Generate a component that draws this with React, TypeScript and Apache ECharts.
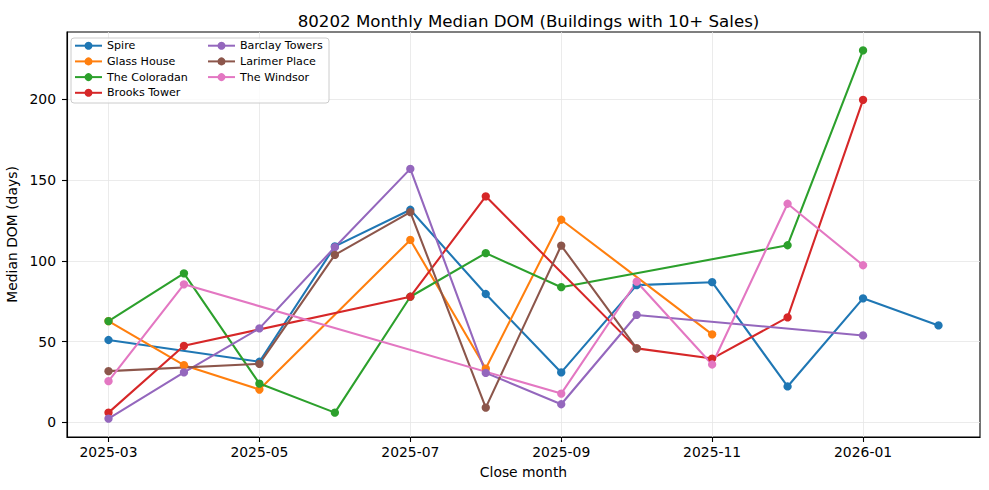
import React, { useEffect, useRef } from "react";
import * as echarts from "echarts";

const months = ["2025-03","2025-04","2025-05","2025-06","2025-07","2025-08","2025-09","2025-10","2025-11","2025-12","2026-01","2026-02"];
const xTickIdx = [0, 2, 4, 6, 8, 10];
const yTicks = [0, 50, 100, 150, 200];

const seriesNames = ["Spire","Glass House","The Coloradan","Brooks Tower","Barclay Towers","Larimer Place","The Windsor"];
const colors = ["#1f77b4","#ff7f0e","#2ca02c","#d62728","#9467bd","#8c564b","#e377c2"];

const spire = [51, null, 37.5, 109, 131.7, 79.5, 30.9, 85, 86.8, 22.2, 76.8, 60];
const glassHouse = [62.7, 35.4, 20.3, null, 113, 33.3, 125.5, null, 54.5, null, null, null];
const coloradan = [62.7, 92.3, 24, 6, 77.8, 104.8, 83.7, null, null, 109.7, 230.4, null];
const brooksTower = [6, 47.4, null, null, 77.8, 140, null, 45.8, 39.5, 65, 199.8, null];
const barclayTowers = [2.3, 30.9, 58.2, 108.5, 157, 30.6, 11.2, 66.5, null, null, 53.8, null];
const larimerPlace = [31.7, null, 36.2, 103.7, 130.2, 9.1, 109.5, 45.8, null, null, null, null];
const windsor = [25.5, 85.5, null, null, null, null, 17.8, 87.1, 35.8, 135.4, 97.3, null];

const allValues = [spire, glassHouse, coloradan, brooksTower, barclayTowers, larimerPlace, windsor];

const FONT = "DejaVu Sans";

export default function App() {
  const ref = useRef<HTMLDivElement>(null);
  useEffect(() => {
    if (!ref.current) return;
    const chart = echarts.init(ref.current, null, { renderer: "svg" });
    const flat = allValues.flat().filter((v) => v !== null) as number[];
    const dMin = Math.min(...flat);
    const dMax = Math.max(...flat);
    const pad = (dMax - dMin) * 0.05;
    const xPad = (months.length - 1) * 0.05;

    const series = allValues.map((vals, i) => ({
      name: seriesNames[i],
      type: "line",
      data: vals.map((v, j) => (v === null ? null : [j, v])).filter((d) => d !== null),
      symbol: "circle",
      symbolSize: 8.3,
      showSymbol: true,
      lineStyle: { width: 2.08, color: colors[i] },
      itemStyle: { color: colors[i] },
      emphasis: { disabled: true },
      z: 2,
    }));

    const legendCommon = {
      orient: "vertical",
      itemWidth: 27,
      itemHeight: 10,
      itemGap: 4.7,
      padding: 0,
      top: 40.2,
      textStyle: { fontFamily: FONT, fontSize: 11.1, color: "#000" },
      z: 5,
      selectedMode: false,
    };

    chart.setOption({
      animation: false,
      color: colors,
      title: {
        text: "80202 Monthly Median DOM (Buildings with 10+ Sales)",
        left: 523.5,
        top: 8,
        textAlign: "center",
        textStyle: { fontFamily: FONT, fontSize: 16.67, fontWeight: "normal", color: "#000" },
      },
      grid: {
        left: 67,
        right: 9,
        top: 32,
        bottom: 53,
        show: true,
        borderColor: "#000",
        borderWidth: 1.1,
        backgroundColor: "transparent",
        containLabel: false,
        outerBoundsMode: "none",
      },
      legend: [
        { ...legendCommon, left: 74, data: seriesNames.slice(0, 4) },
        { ...legendCommon, left: 207, data: seriesNames.slice(4) },
      ],
      graphic: [
        {
          type: "rect",
          z: 4,
          shape: { x: 71, y: 38, width: 258, height: 65, r: 3 },
          style: { fill: "rgba(255,255,255,0.8)", stroke: "#cccccc", lineWidth: 1 },
        },
      ],
      xAxis: {
        type: "value",
        min: -xPad,
        max: months.length - 1 + xPad,
        name: "Close month",
        nameLocation: "middle",
        nameGap: 28,
        nameTextStyle: { fontFamily: FONT, fontSize: 13.9, color: "#000" },
        axisLine: { show: true, onZero: false, lineStyle: { color: "#000", width: 1.1 } },
        axisTick: { show: true, length: 5, lineStyle: { color: "#000", width: 1.1 }, customValues: xTickIdx },
        axisLabel: {
          customValues: xTickIdx,
          formatter: (v: number) => months[Math.round(v)] ?? "",
          fontFamily: FONT,
          fontSize: 13.9,
          color: "#000",
          margin: 8,
        },
        splitLine: { show: true, lineStyle: { color: "#e6e6e6", width: 0.8 } },
      },
      yAxis: {
        type: "value",
        min: dMin - pad,
        max: dMax + pad,
        name: "Median DOM (days)",
        nameLocation: "middle",
        nameGap: 43,
        nameTextStyle: { fontFamily: FONT, fontSize: 13.9, color: "#000" },
        axisLine: { show: true, onZero: false, lineStyle: { color: "#000", width: 1.1 } },
        axisTick: { show: true, length: 5, lineStyle: { color: "#000", width: 1.1 }, customValues: yTicks },
        axisLabel: {
          customValues: yTicks,
          fontFamily: FONT,
          fontSize: 13.9,
          color: "#000",
          margin: 11,
        },
        splitLine: { show: true, lineStyle: { color: "#e6e6e6", width: 0.8 } },
      },
      series,
    });
    return () => chart.dispose();
  }, []);
  return <div ref={ref} style={{ width: 989, height: 490, position: "absolute", left: 0, top: 0 }} />;
}
